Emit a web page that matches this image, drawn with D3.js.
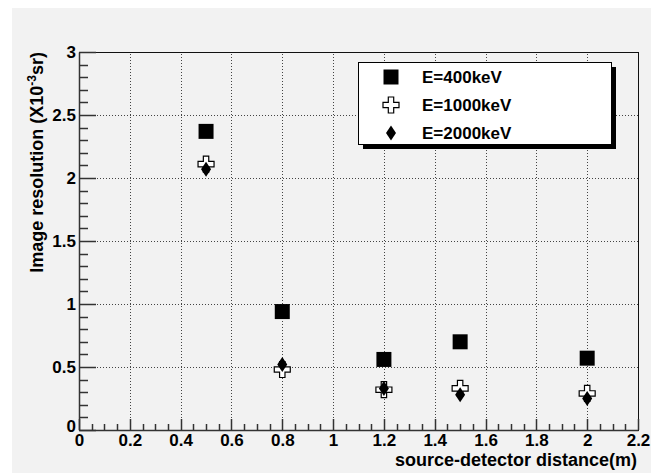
<!DOCTYPE html>
<html>
<head>
<meta charset="utf-8">
<script src="https://cdn.jsdelivr.net/npm/d3@7"></script>
<style>
  html, body { margin: 0; padding: 0; background: #ffffff; }
  svg { display: block; font-family: "Liberation Sans", Arial, sans-serif; font-weight: bold; }
</style>
</head>
<body>
<div id="chart"></div>
<script>
// Data
const distances = [0.5, 0.8, 1.2, 1.5, 2.0]
const res400 = [2.37, 0.94, 0.56, 0.70, 0.57]
const res1000 = [2.11, 0.48, 0.32, 0.33, 0.29]
const res2000 = [2.07, 0.52, 0.33, 0.28, 0.25]
const seriesNames = ["E=400keV", "E=1000keV", "E=2000keV"]
const xTicks = [0, 0.2, 0.4, 0.6, 0.8, 1, 1.2, 1.4, 1.6, 1.8, 2, 2.2]
const yTicks = [0, 0.5, 1, 1.5, 2, 2.5, 3]

const w = 651
const h = 473
const margin = {left: 79, top: 52, right: 13, bottom: 43}
const bg = "#f2f2f2"

const svg = d3.select("#chart").append("svg")
    .attr("width", w)
    .attr("height", h)

// grey canvas, white strip on top and left
svg.append("rect")
    .attr("x", 12).attr("y", 8)
    .attr("width", w - 12).attr("height", h - 8)
    .attr("fill", bg)

const x = d3.scaleLinear().domain([0, 2.2]).range([margin.left, w - margin.right])
const y = d3.scaleLinear().domain([0, 3]).range([h - margin.bottom, margin.top])

const x0 = x.range()[0], x1 = x.range()[1]
const y0 = y.range()[0], y1 = y.range()[1]

// Grid (dotted, at major ticks)
const grid = svg.append("g")
    .attr("stroke", "#444")
    .attr("stroke-width", 1)
    .attr("stroke-dasharray", "1,2")
grid.selectAll(".gx")
    .data(xTicks.slice(1, -1))
    .enter().append("line")
    .attr("x1", d => Math.round(x(d)) + 0.5).attr("x2", d => Math.round(x(d)) + 0.5)
    .attr("y1", y0).attr("y2", y1)
grid.selectAll(".gy")
    .data(yTicks.slice(1, -1))
    .enter().append("line")
    .attr("y1", d => Math.round(y(d)) + 0.5).attr("y2", d => Math.round(y(d)) + 0.5)
    .attr("x1", x0).attr("x2", x1)

// Frame
svg.append("rect")
    .attr("x", x0 + 0.5).attr("y", y1 + 0.5)
    .attr("width", x1 - x0).attr("height", y0 - y1)
    .attr("fill", "none")
    .attr("stroke", "#111")
    .attr("stroke-width", 1)

// ROOT style ticks, drawn inside the frame
const xMajorLen = Math.round(0.03 * (y0 - y1))
const yMajorLen = Math.round(0.03 * (x1 - x0))
const xMinorTicks = d3.range(0, 45).map(i => i * 0.05)
const yMinorTicks = d3.range(0, 31).map(i => i * 0.1)

const ticks = svg.append("g")
    .attr("stroke", "#333")
    .attr("stroke-width", 1.5)
ticks.selectAll(".xt")
    .data(xMinorTicks)
    .enter().append("line")
    .attr("x1", d => Math.round(x(d)) + 0.5).attr("x2", d => Math.round(x(d)) + 0.5)
    .attr("y1", y0)
    .attr("y2", (d, i) => y0 - (i % 4 === 0 ? xMajorLen : Math.round(xMajorLen / 2)))
ticks.selectAll(".yt")
    .data(yMinorTicks)
    .enter().append("line")
    .attr("y1", d => Math.round(y(d)) + 0.5).attr("y2", d => Math.round(y(d)) + 0.5)
    .attr("x1", x0)
    .attr("x2", (d, i) => x0 + (i % 5 === 0 ? yMajorLen : Math.round(yMajorLen / 2)))

// Axis labels
const xAxis = d3.axisBottom(x)
    .tickValues(xTicks)
    .tickSize(0)
    .tickPadding(4)
    .tickFormat(d3.format("~g"))
const yAxis = d3.axisLeft(y)
    .tickValues(yTicks)
    .tickSize(0)
    .tickPadding(3)
    .tickFormat(d3.format("~g"))

function styleAxis(g) {
    g.select(".domain").attr("stroke", "#333").attr("stroke-width", 1.5)
    g.selectAll(".tick text")
        .attr("fill", "#000")
        .style("font-size", "17px")
        .style("font-weight", "bold")
        .style("font-family", "'Liberation Sans', Arial, sans-serif")
}

svg.append("g").attr("transform", `translate(0,${y0})`).call(xAxis).call(styleAxis)
const yg = svg.append("g").attr("transform", `translate(${x0},0)`).call(yAxis).call(styleAxis)
// ROOT shifts the zero label of the y axis down a bit
yg.selectAll(".tick text").filter(d => d === 0).attr("dy", "0.1em")

// Axis titles
svg.append("text")
    .attr("x", x1 - 1)
    .attr("y", 466)
    .attr("text-anchor", "end")
    .style("font-size", "18px")
    .text("source-detector distance(m)")

const yTitle = svg.append("text")
    .attr("transform", `translate(43,${y1}) rotate(-90)`)
    .attr("text-anchor", "end")
    .style("font-size", "18px")
yTitle.append("tspan").text("Image resolution (X10")
yTitle.append("tspan").attr("dy", -7).style("font-size", "12px").text("-3")
yTitle.append("tspan").attr("dy", 7).text("sr)")

// Marker shapes
const sq = 15
function squarePath() {
    return `M${-sq / 2},${-sq / 2}h${sq}v${sq}h${-sq}Z`
}
function crossPath() {
    const a = 8, b = 2.7
    return `M${-b},${-a}H${b}V${-b}H${a}V${b}H${b}V${a}H${-b}V${b}H${-a}V${-b}H${-b}Z`
}
function diamondPath() {
    const dw = 5, dh = 7.5
    return `M0,${-dh}L${dw},0L0,${dh}L${-dw},0Z`
}

const series = [
    {name: seriesNames[0], values: res400, path: squarePath, fill: "#000", stroke: "none"},
    {name: seriesNames[1], values: res1000, path: crossPath, fill: "#fff", stroke: "#000"},
    {name: seriesNames[2], values: res2000, path: diamondPath, fill: "#000", stroke: "none"}
]

series.forEach(s => {
    svg.append("g").selectAll("path")
        .data(distances.map((d, i) => [d, s.values[i]]))
        .enter().append("path")
        .attr("d", s.path())
        .attr("transform", d => `translate(${x(d[0])},${y(d[1])})`)
        .attr("fill", s.fill)
        .attr("stroke", s.stroke)
        .attr("stroke-width", 1.2)
})

// Legend with shadow
const lg = {x: 358, y: 62, w: 253, h: 82}
svg.append("rect")
    .attr("x", lg.x + 5).attr("y", lg.y + 5)
    .attr("width", lg.w).attr("height", lg.h)
    .attr("fill", "#000")
svg.append("rect")
    .attr("x", lg.x + 0.5).attr("y", lg.y + 0.5)
    .attr("width", lg.w).attr("height", lg.h)
    .attr("fill", "#fff")
    .attr("stroke", "#000")
    .attr("stroke-width", 1)

series.forEach((s, i) => {
    const cy = lg.y + 15 + i * 28
    svg.append("path")
        .attr("d", s.path())
        .attr("transform", `translate(${lg.x + 33},${cy})`)
        .attr("fill", s.fill)
        .attr("stroke", s.stroke)
        .attr("stroke-width", 1.2)
    svg.append("text")
        .attr("x", lg.x + 64)
        .attr("y", cy + 6)
        .style("font-size", "17px")
        .text(s.name)
})
</script>
</body>
</html>
